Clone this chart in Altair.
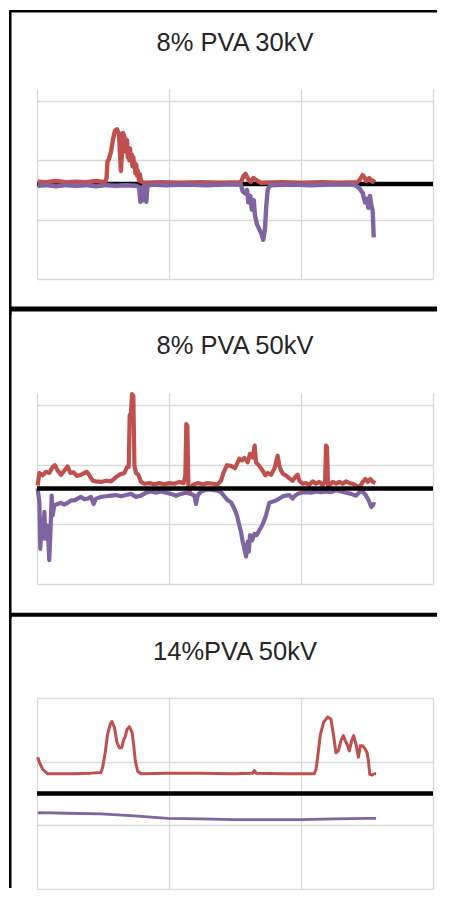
import altair as alt
import pandas as pd

TITLES = ["8% PVA 30kV", "8% PVA 50kV", "14%PVA 50kV"]
X_GRID = [0, 100, 200, 300]
RED = "#C0504D"
PURPLE = "#8064A2"

# ---------- panel 1 : 8% PVA 30kV ----------
P1_RED_X = [0.5, 6.8, 14.4, 22, 29.5, 37.1, 44.7, 51.5, 52.7, 53.4, 54.5, 56.1, 57.6, 59.1, 60.6,
            62.1, 62.9, 63.6, 64.4, 65.2, 66.3, 67.0, 67.4, 68.2, 68.8, 69.3, 70.0, 70.5, 71.2, 71.8,
            72.3, 73.0, 73.5, 74.1, 74.6, 75.2, 75.8, 76.5, 77.3, 78.0, 78.8, 81.1, 93.9, 109.1,
            124.2, 139.4, 154.5, 156.6, 157.9, 159.1, 160.6, 162.1, 164, 165.2, 167.2, 169.7,
            184.8, 200, 215.2, 230.3, 242.4, 244.2, 246.7, 248.5, 249.2, 251.7, 253, 254.3, 255.7]
P1_RED_Y = [0.04, 0.03, 0.05, 0.03, 0.04, 0.03, 0.05, 0.03, 0.10, 0.38, 0.42, 0.55, 0.75, 0.90, 0.92,
            0.85, 0.50, 0.22, 0.55, 0.86, 0.78, 0.55, 0.66, 0.74, 0.45, 0.58, 0.40, 0.60, 0.42, 0.50,
            0.30, 0.45, 0.28, 0.36, 0.18, 0.32, 0.14, 0.22, 0.06, 0.16, 0.05, 0.02, 0.03, 0.02,
            0.03, 0.02, 0.03, 0.14, 0.17, 0.12, 0.06, 0.04, 0.10, 0.08, 0.05, 0.02,
            0.03, 0.02, 0.03, 0.02, 0.03, 0.06, 0.15, 0.10, 0.05, 0.10, 0.06, 0.04, 0.08]
P1_PUR_X = [0.5, 6.8, 14.4, 22, 29.5, 37.1, 44.7, 52.3, 59.8, 67.4, 75, 77.3, 78.3, 79.2, 80.2, 81.1,
            82.1, 82.8, 83.7, 86.4, 97.7, 112.9, 128, 143.2, 154.5, 155.8, 157.6, 159.1, 160.1,
            161.6, 162.7, 164.2, 165.2, 166.7, 168.4, 170.2, 171.4, 172.7, 173.7, 174.8, 176.8,
            192.4, 207.6, 222.7, 240.4, 244.2, 246.7, 248.5, 250, 251, 252.3, 253.3, 254.3, 255.1]
P1_PUR_Y = [-0.03, -0.02, -0.04, -0.02, -0.03, -0.02, -0.04, -0.02, -0.03, -0.02, -0.03, -0.05, -0.30,
            -0.06, -0.28, -0.03, -0.05, -0.30, -0.04, -0.01, -0.02, -0.01, -0.02, -0.01, -0.01,
            -0.12, -0.16, -0.10, -0.31, -0.20, -0.43, -0.27, -0.54, -0.68, -0.76, -0.85, -0.94,
            -0.76, -0.37, -0.09, -0.02, -0.01, -0.02, -0.01, -0.01, -0.07, -0.15, -0.31, -0.25,
            -0.40, -0.20, -0.36, -0.45, -0.90]

# ---------- panel 2 : 8% PVA 50kV ----------
P2_RED_X = [0.5, 1.8, 4.3, 6.8, 9.3, 11.9, 13.6, 15.7, 18.2, 20.7, 23.2, 25.3, 27.8, 30.3, 33.3, 35.9,
            37.9, 39.9, 42.2, 44.7, 48.5, 52.3, 56.1, 59.9, 63.1, 66.2, 68.2, 69.5, 70.2, 71.2, 72,
            73, 73.8, 75, 76.8, 78.8, 81.3, 85.1, 88.9, 92.7, 96.5, 100.3, 104.1, 107.8, 111.1,
            112.4, 113.1, 113.9, 114.7, 115.4, 118, 121.7, 125.5, 129.3, 133.1, 136.9, 139.4,
            141.4, 143.9, 146.9, 150, 153.3, 155.3, 157.1, 159.6, 161.4, 163.4, 164.9, 165.9,
            168.4, 170.9, 173, 174.8, 177.3, 179.8, 181.1, 182.3, 183.6, 184.9, 186.6, 188.6,
            191.2, 193.7, 196.2, 197.5, 198.7, 201.3, 203.8, 206.3, 208.8, 211.4, 213.9, 216.4,
            218.2, 219, 219.7, 220.5, 221.5, 224.1, 226.6, 229.1, 231.6, 234.2, 236.7, 239.2,
            241.7, 244.3, 246.8, 248.8, 250.6, 252.6, 254.4, 256.4]
P2_RED_Y = [0.05, 0.26, 0.22, 0.28, 0.26, 0.36, 0.39, 0.30, 0.23, 0.30, 0.37, 0.26, 0.27, 0.21, 0.23, 0.26,
            0.28, 0.21, 0.13, 0.12, 0.11, 0.13, 0.12, 0.19, 0.24, 0.26, 0.36, 0.36, 1.22, 1.27, 1.58,
            1.55, 0.38, 0.26, 0.23, 0.11, 0.08, 0.09, 0.07, 0.09, 0.07, 0.09, 0.08, 0.11, 0.09,
            0.22, 1.08, 1.05, 0.05, -0.05, 0.06, 0.09, 0.07, 0.09, 0.08, 0.07, 0.13,
            0.27, 0.39, 0.38, 0.34, 0.50, 0.47, 0.51, 0.44, 0.58, 0.52, 0.72, 0.44,
            0.38, 0.30, 0.22, 0.26, 0.23, 0.33, 0.44, 0.55, 0.38, 0.30, 0.24, 0.22,
            0.17, 0.13, 0.21, 0.23, 0.13, 0.08, 0.09, 0.06, 0.12, 0.08, 0.11, 0.06,
            0.11, 0.72, 0.69, 0.05, 0.06, 0.11, 0.08, 0.11, 0.08, 0.12, 0.09, 0.08,
            0.05, 0.02, 0.11, 0.16, 0.11, 0.16, 0.11, 0.09]
P2_PUR_X = [0.5, 1.8, 2.5, 3.5, 4.3, 5.6, 6.3, 7.6, 8.6, 9.3, 10.1, 11.1, 11.9, 13.1, 15.7, 18.2, 20.7,
            23.2, 25.8, 28.3, 30.8, 33.3, 35.9, 38.4, 40.9, 42.9, 44.7, 48.5, 52.3, 56.1, 59.9,
            63.6, 67.4, 71.2, 75, 78.8, 82.6, 86.4, 90.2, 94, 97.7, 101.5, 105.3, 109.1, 112.9,
            116.7, 119.2, 120.5, 121.7, 124.2, 128, 131.8, 135.6, 139.4, 141.9, 144.5, 147,
            149.5, 151.5, 153.3, 154.6, 155.8, 157.1, 158.4, 159.6, 160.4, 161.4, 162.9, 164.7,
            166.4, 168.4, 170.5, 172.2, 173.5, 174.8, 176, 178.6, 181.1, 183.6, 186.2, 188.7,
            191.2, 193.7, 195, 197.5, 200.1, 203.8, 207.6, 211.4, 215.2, 219, 222.8, 226.6,
            230.4, 234.2, 238, 241.7, 244.3, 246.8, 249.3, 251.3, 253.3, 254.9, 256.4]
P2_PUR_Y = [0.0, -0.23, -1.01, -0.51, -0.84, -0.39, -0.84, -0.62, -0.89, -1.20, -0.78, -0.12, -0.45, -0.28,
            -0.26, -0.24, -0.27, -0.24, -0.20, -0.20, -0.17, -0.14, -0.18, -0.17, -0.14, -0.26,
            -0.17, -0.14, -0.13, -0.12, -0.11, -0.13, -0.11, -0.09, -0.14, -0.12, -0.07, -0.05,
            -0.07, -0.05, -0.07, -0.09, -0.12, -0.09, -0.07, -0.09, -0.12, -0.26, -0.12, -0.05,
            -0.02, -0.02, -0.03, -0.06, -0.13, -0.20, -0.23, -0.34, -0.45, -0.62, -0.73, -0.89,
            -1.01, -1.14, -0.89, -1.06, -0.78, -0.87, -0.76, -0.78, -0.70, -0.62, -0.53, -0.45,
            -0.34, -0.24, -0.22, -0.20, -0.17, -0.13, -0.12, -0.11, -0.17, -0.13, -0.09, -0.07,
            -0.06, -0.07, -0.05, -0.06, -0.05, -0.06, -0.03, -0.05, -0.07, -0.09, -0.12, -0.06,
            -0.05, -0.12, -0.20, -0.31, -0.26, -0.27]

# ---------- panel 3 : 14%PVA 50kV ----------
P3_RED_X = [0.5, 1.8, 4.3, 8.1, 15.7, 28.3, 40.9, 48.5, 49.7, 51.5, 53.5, 55.5, 56.8, 58.6, 60.6, 62.4,
            64.2, 65.7, 66.7, 68.2, 70, 72, 73.2, 74.5, 76.3, 78.8, 99, 124.2, 149.5, 163.4, 164.7,
            165.9, 187.4, 210.1, 211.4, 212.6, 214.7, 217.2, 220.2, 222.7, 224.5, 226.5, 228.3,
            230.3, 232.1, 233.6, 235.4, 236.6, 238.4, 239.9, 241.7, 243.5, 245, 246.8, 248.5,
            250.1, 251.1, 252.1, 253.6, 255.6, 256.9]
P3_RED_Y = [0.57, 0.49, 0.38, 0.31, 0.31, 0.31, 0.32, 0.33, 0.41, 0.62, 0.93, 1.09, 1.13, 1.04, 0.80, 0.72,
            0.72, 0.85, 0.88, 1.01, 1.05, 0.96, 0.77, 0.51, 0.35, 0.31, 0.32, 0.32, 0.31, 0.32, 0.36,
            0.32, 0.31, 0.31, 0.38, 0.57, 0.93, 1.12, 1.20, 1.17, 0.93, 0.64, 0.67,
            0.83, 0.91, 0.83, 0.75, 0.67, 0.83, 0.91, 0.77, 0.57, 0.75, 0.75, 0.70,
            0.64, 0.51, 0.30, 0.29, 0.31, 0.31]
P3_PUR_X = [1, 1.8, 23.2, 48.5, 73.7, 99, 124.2, 149.5, 174.7, 200, 225.3, 250.5, 256.9]
P3_PUR_Y = [-0.32, -0.30, -0.31, -0.32, -0.35, -0.39, -0.40, -0.41, -0.41, -0.41, -0.40, -0.39, -0.39]

PW = 396
FONT = "Liberation Sans"
RIGHT_END = 400   # right end of the panel separators, relative to plot left


def xenc():
    return alt.X("x:Q", scale=alt.Scale(domain=[0, 300], nice=False, zero=False),
                 axis=alt.Axis(values=X_GRID, grid=True, labels=False, ticks=False,
                               domain=False, title=None, minExtent=0, maxExtent=0))


def yenc(dom, grid):
    return alt.Y("y:Q", scale=alt.Scale(domain=dom, nice=False, zero=False),
                 axis=alt.Axis(values=grid, grid=True, labels=False, ticks=False,
                               domain=False, title=None, minExtent=0, maxExtent=0))


def line(xs, ys, color, width, dom, grid):
    df = pd.DataFrame({"x": xs, "y": ys})
    return alt.Chart(df).mark_line(color=color, strokeWidth=width, strokeJoin="round").encode(
        x=xenc(), y=yenc(dom, grid))


def deco(x1, x2, y1, y2, w):
    return alt.Chart(pd.DataFrame({"d": [0]})).mark_rule(
        color="black", strokeWidth=w, strokeCap="butt").encode(
        x=alt.value(x1), x2=alt.value(x2), y=alt.value(y1), y2=alt.value(y2))


def panel(title, rx, ry, px, py, dom, grid, h, black_top, ty, tb_y, tb_w, lb_top, lb_bot, lw_r, lw_p):
    zero = alt.Chart(pd.DataFrame({"y": [0]})).mark_rule(color="black", strokeWidth=4.5).encode(
        y=yenc(dom, grid))
    red = line(rx, ry, RED, lw_r, dom, grid)
    pur = line(px, py, PURPLE, lw_p, dom, grid)
    data_layers = [red, pur, zero] if black_top else [zero, red, pur]
    ttl = alt.Chart(pd.DataFrame({"t": [title]})).mark_text(
        font=FONT, fontSize=25.5, color="#262626", align="center", baseline="alphabetic").encode(
        x=alt.value(PW / 2), y=alt.value(ty), text="t:N")
    top_border = deco(-26, RIGHT_END, tb_y, tb_y, tb_w)
    left_border = deco(-26.75, -26.75, lb_top, lb_bot, 2.5)
    return alt.layer(*data_layers, ttl, top_border, left_border).properties(width=PW, height=h)


p1 = panel(TITLES[0], P1_RED_X, P1_RED_Y, P1_PUR_X, P1_PUR_Y, [-1.6, 1.6], [-1.6, -0.6, 0.4, 1.4],
           190, False, -37.7, -77.75, 2.5, -79, 226, 4.4, 4.4)
p2 = panel(TITLES[1], P2_RED_X, P2_RED_Y, P2_PUR_X, P2_PUR_Y, [-1.6, 1.6], [-1.6, -0.6, 0.4, 1.4],
           191, True, -38.7, -84, 5, -86, 226, 4.2, 4.2)
p3 = panel(TITLES[2], P3_RED_X, P3_RED_Y, P3_PUR_X, P3_PUR_Y, [-1.5, 1.5], [-1.5, -0.5, 0.5, 1.5],
           191, False, -37.7, -83.3, 4, -85, 190, 3, 2.8)

chart = alt.vconcat(p1, p2, p3, spacing=114, bounds="flush").properties(
    padding=0, background="white"
).configure_view(stroke=None).configure_axis(gridColor="#D9D9D9", gridWidth=1.3,
                                             minExtent=0, maxExtent=0)

chart.save("out.html", embed_options={"renderer": "svg", "actions": False})
